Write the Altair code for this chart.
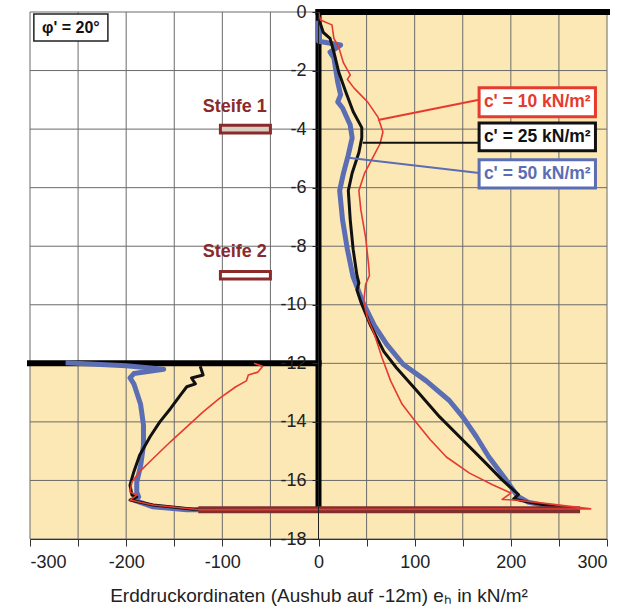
import altair as alt
import pandas as pd

# ---------------- data ----------------
red_x = [0, 2, 14, 16, 21, 26, 33, 30, 37, 51, 62, 67, 64, 56, 48, 42, 44, 49, 52, 53, 49, 47,
         51, 58, 66, 75, 87, 100, 116, 133, 157, 181, 200, 191, 205, 240, 283,
         -123, -172, -196, -189, -196, -194, -186, -172, -154, -137, -120, -103, -86, -75, -73, -63, -58, -67]
red_y = [0, -0.27, -0.44, -0.9, -1.2, -1.74, -2.15, -2.3, -2.6, -3.07, -3.6, -4.1, -4.5, -5.0, -5.5, -6.1, -6.75, -7.7, -8.6, -9.0, -9.3, -9.9,
         -10.45, -11.0, -11.8, -12.6, -13.4, -13.95, -14.6, -15.2, -15.75, -16.15, -16.43, -16.65, -16.67, -16.8, -16.97,
         -17.0, -16.84, -16.67, -16.5, -16.39, -16.05, -15.7, -15.25, -14.68, -14.17, -13.66, -13.2, -12.8, -12.6, -12.4, -12.3, -12.1, -12.0]

black_x = [0, 5, 12, 16, 21, 28, 36, 45, 45, 42, 35, 31, 33, 36, 40, 42, 40, 44,
           54, 68, 81, 102, 126, 150, 174, 191, 208, 203, 218, 252, 270,
           -130, -172, -196, -189, -194, -196, -192, -186, -175, -165, -154, -144, -137, -128, -132, -120, -123]
black_y = [-0.2, -0.7, -0.9, -1.37, -2.05, -2.7, -3.4, -3.95, -4.3, -4.8, -5.5, -6.1, -7.1, -8.1, -9.0, -9.25, -9.5, -9.9,
           -10.7, -11.6, -12.15, -12.93, -13.83, -14.62, -15.41, -15.98, -16.48, -16.63, -16.74, -16.93, -17.0,
           -16.98, -16.84, -16.67, -16.56, -16.5, -16.16, -15.7, -15.14, -14.5, -14.0, -13.55, -13.1, -12.8, -12.7, -12.5, -12.4, -12.1]

blue_x = [0, 0, 23, 12, 16, 20, 23, 20, 25, 33, 35, 31, 26, 22, 25, 30, 36, 46,
          58, 71, 88, 112, 136, 150, 164, 177, 195, 207, 218, 241, 265,
          -137, -172, -192, -187, -189, -189, -185, -182, -182, -185, -192, -196, -192, -161, -200, -263]
blue_y = [-0.3, -1.0, -1.13, -1.37, -1.57, -2.4, -2.83, -3.07, -3.28, -3.86, -4.3, -4.88, -5.5, -6.1, -7.1, -8.1, -9.05, -9.9,
          -10.7, -11.35, -12.03, -12.6, -13.27, -13.83, -14.5, -15.19, -15.98, -16.54, -16.74, -16.9, -17.0,
          -17.0, -16.9, -16.67, -16.56, -16.4, -16.07, -15.5, -14.8, -14.1, -13.4, -12.7, -12.5, -12.35, -12.2, -12.08, -11.98]

x_grid = list(range(-300, 301, 50))
y_grid = list(range(0, -19, -2))

# structural elements (data coordinates)
beige_x1 = [0, -300]
beige_x2 = [300, 0]
beige_y1 = [0, -12]
beige_y2 = [-18, -18]

thick_x1 = [0, 0, -300]
thick_x2 = [0, 300, 0]
thick_y1 = [0, 0, -12]
thick_y2 = [-17, 0, -12]

bar_x = [-125, 272]
bar_y = -17

steife_labels = ["Steife 1", "Steife 2"]
steife_x1 = [-102, -102]
steife_x2 = [-50, -50]
steife_y1 = [-3.87, -8.86]
steife_y2 = [-4.13, -9.12]
steife_fill = ["#D9CCC0", "#FFFFFF"]
steife_text_x = [-87, -87]
steife_text_y = [-3.24, -8.19]

legend_labels = ["c' = 10 kN/m²", "c' = 25 kN/m²", "c' = 50 kN/m²"]
legend_colors = ["#E63A2E", "#111111", "#5B6DB3"]
legend_y1 = [-2.59, -3.79, -5.05]
legend_y2 = [-3.58, -4.74, -6.01]
legend_x1 = 167
legend_x2 = 288
leader_x1 = [167, 167, 167]
leader_y1 = [-3.0, -4.47, -5.5]
leader_x2 = [62, 46, 31]
leader_y2 = [-3.69, -4.47, -4.98]

phi_label = "φ' = 20°"
phi_x1, phi_x2, phi_y1, phi_y2 = -296, -219, -0.07, -0.99

FONT = "Liberation Sans"
BEIGE = "#FCE8B4"
XS = alt.Scale(domain=[-300, 300], nice=False, zero=False)
YS = alt.Scale(domain=[-18, 0], nice=False, zero=False)


def curve_df(xs, ys):
    return pd.DataFrame({"x": xs, "y": ys, "i": list(range(len(xs)))})


# ---------------- layers ----------------
beige = alt.Chart(pd.DataFrame({"x": beige_x1, "x2": beige_x2, "y": beige_y1, "y2": beige_y2})).mark_rect(
    color=BEIGE
).encode(
    x=alt.X("x:Q", scale=XS, axis=alt.Axis(
        values=list(range(-300, 301, 25)),
        labelExpr="datum.value % 50 == 0 ? '' + datum.value : ''",
        grid=False, tickSize=7, tickColor="#333", domainColor="#333",
        labelFontSize=18, labelColor="#222", labelFont=FONT, labelPadding=7,
        title="Erddruckordinaten (Aushub auf -12m) eₕ in kN/m²",
        titleFont=FONT, titleFontSize=19, titleFontWeight="normal", titleColor="#222",
        titlePadding=15, zindex=1)),
    x2="x2:Q",
    y=alt.Y("y:Q", scale=YS, axis=alt.Axis(
        values=list(range(-18, 1, 1)),
        labelExpr="datum.value % 2 == 0 ? '' + datum.value : ''",
        grid=False, tickSize=6, tickColor="#222", domainColor="#222",
        labelFontSize=18, labelColor="#222", labelFont=FONT, labelPadding=6,
        offset=-288, title=None, zindex=1)),
    y2="y2:Q",
)

vgrid = alt.Chart(pd.DataFrame({"x": x_grid})).mark_rule(color="#6b6b6b", strokeWidth=1).encode(
    x=alt.X("x:Q", scale=XS), y=alt.value(0), y2=alt.value(527))
hgrid = alt.Chart(pd.DataFrame({"y": y_grid})).mark_rule(color="#6b6b6b", strokeWidth=1).encode(
    y=alt.Y("y:Q", scale=YS), x=alt.value(0), x2=alt.value(577))

thick = alt.Chart(pd.DataFrame({"x": thick_x1, "x2": thick_x2, "y": thick_y1, "y2": thick_y2})).mark_rule(
    color="#000000", strokeWidth=6, strokeCap="square").encode(
    x=alt.X("x:Q", scale=XS), x2="x2:Q", y=alt.Y("y:Q", scale=YS), y2="y2:Q")

steife_rect = alt.Chart(pd.DataFrame({"x": steife_x1, "x2": steife_x2, "y": steife_y1, "y2": steife_y2,
                                      "f": steife_fill})).mark_rect(
    stroke="#8B2A2A", strokeWidth=3).encode(
    x=alt.X("x:Q", scale=XS), x2="x2:Q", y=alt.Y("y:Q", scale=YS), y2="y2:Q",
    fill=alt.Color("f:N", scale=None))
steife_text = alt.Chart(pd.DataFrame({"x": steife_text_x, "y": steife_text_y, "t": steife_labels})).mark_text(
    font=FONT, fontSize=18, fontWeight="bold", color="#8B2A2A").encode(
    x=alt.X("x:Q", scale=XS), y=alt.Y("y:Q", scale=YS), text="t:N")


def curve(xs, ys, color, width):
    return alt.Chart(curve_df(xs, ys)).mark_line(color=color, strokeWidth=width, strokeJoin="round").encode(
        x=alt.X("x:Q", scale=XS), y=alt.Y("y:Q", scale=YS), order="i:Q")


blue = curve(blue_x, blue_y, "#5B6DB3", 5)
black = curve(black_x, black_y, "#111111", 3)
red = curve(red_x, red_y, "#E63A2E", 1.6)

bar = alt.Chart(pd.DataFrame({"x": [bar_x[0]], "x2": [bar_x[1]], "y": [bar_y]})).mark_rule(
    color="#7E2F2F", strokeWidth=7).encode(
    x=alt.X("x:Q", scale=XS), x2="x2:Q", y=alt.Y("y:Q", scale=YS))

leaders = alt.Chart(pd.DataFrame({"x": leader_x1, "y": leader_y1, "x2": leader_x2, "y2": leader_y2,
                                  "c": legend_colors})).mark_rule(strokeWidth=2).encode(
    x=alt.X("x:Q", scale=XS), y=alt.Y("y:Q", scale=YS), x2="x2:Q", y2="y2:Q",
    color=alt.Color("c:N", scale=None))

leg_df = pd.DataFrame({"x": [legend_x1] * 3, "x2": [legend_x2] * 3, "y": legend_y1, "y2": legend_y2,
                       "c": legend_colors, "t": legend_labels,
                       "xm": [(legend_x1 + legend_x2) / 2] * 3,
                       "ym": [(a + b) / 2 for a, b in zip(legend_y1, legend_y2)]})
leg_box = alt.Chart(leg_df).mark_rect(fill="white", strokeWidth=3).encode(
    x=alt.X("x:Q", scale=XS), x2="x2:Q", y=alt.Y("y:Q", scale=YS), y2="y2:Q",
    stroke=alt.Color("c:N", scale=None))
leg_text = alt.Chart(leg_df).mark_text(font=FONT, fontSize=17.5, fontWeight="bold").encode(
    x=alt.X("xm:Q", scale=XS), y=alt.Y("ym:Q", scale=YS), text="t:N",
    color=alt.Color("c:N", scale=None))

phi_box = alt.Chart(pd.DataFrame({"x": [phi_x1], "x2": [phi_x2], "y": [phi_y1], "y2": [phi_y2]})).mark_rect(
    fill="white", stroke="#222", strokeWidth=1.5).encode(
    x=alt.X("x:Q", scale=XS), x2="x2:Q", y=alt.Y("y:Q", scale=YS), y2="y2:Q")
phi_text = alt.Chart(pd.DataFrame({"x": [(phi_x1 + phi_x2) / 2], "y": [(phi_y1 + phi_y2) / 2], "t": [phi_label]})).mark_text(
    font=FONT, fontSize=16, fontWeight="bold", color="#111").encode(
    x=alt.X("x:Q", scale=XS), y=alt.Y("y:Q", scale=YS), text="t:N")

chart = alt.layer(
    beige, vgrid, hgrid, steife_rect, thick, blue, black, bar, red,
    leaders, leg_box, leg_text, steife_text, phi_box, phi_text
).properties(
    width=577, height=527,
    padding={"left": 30, "top": 12, "right": 26, "bottom": 68},
    autosize=alt.AutoSizeParams(type="none"),
    background="white",
).configure_view(strokeWidth=0)

chart.save("out.html", embed_options={"renderer": "svg", "actions": False})
